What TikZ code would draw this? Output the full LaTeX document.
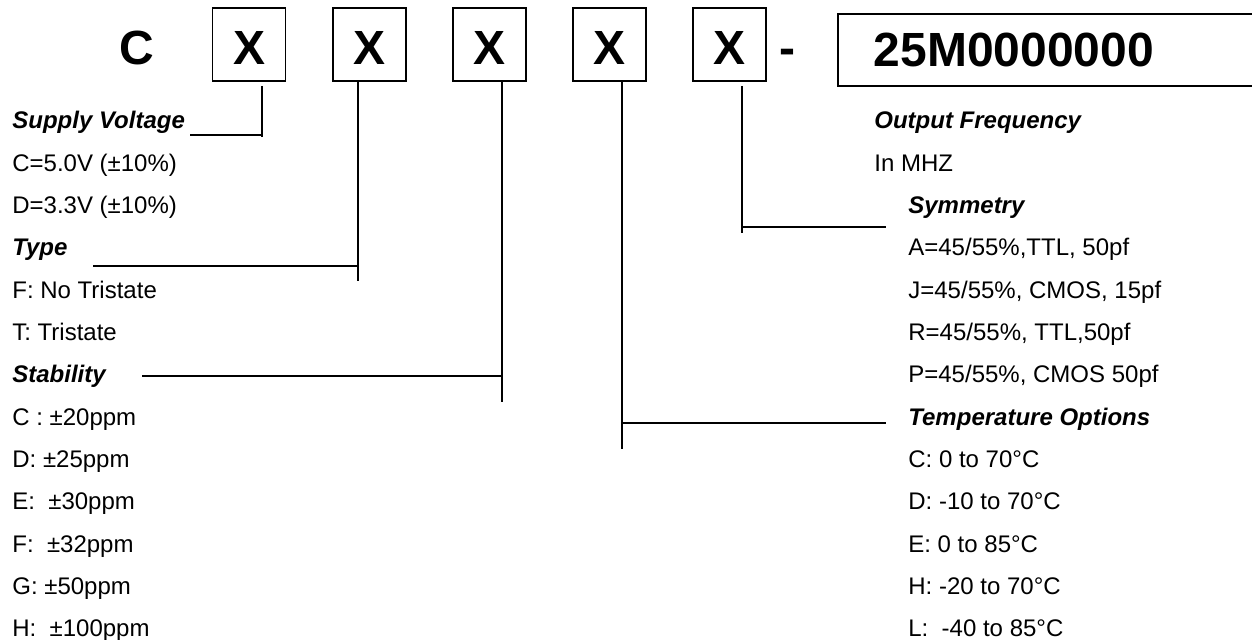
\documentclass[tikz,border=0pt]{standalone}
\usepackage{fontspec}
\setmainfont{Liberation Sans}
\usepackage{xcolor}

\begin{document}
\begin{tikzpicture}[
        digit/.style={draw, line width=0.7pt, minimum width=1.46cm, minimum height=1.46cm, inner sep=0pt, text height=0.82cm, text depth=0pt, font=\fontsize{27.3}{30}\selectfont\bfseries},
        big/.style={font=\fontsize{27.3}{30}\selectfont\bfseries},
        head/.style={anchor=base west, inner sep=0pt, font=\fontsize{13.66}{16}\selectfont\bfseries\itshape},
        item/.style={anchor=base west, inner sep=0pt, font=\fontsize{13.66}{16}\selectfont},
        wire/.style={line width=0.8pt}
    ]
        \useasboundingbox (0,0) rectangle (25.04,-12.8);

        % part number
        \node[big, anchor=base, inner sep=0pt] (prefix) at (2.74,-1.3) {C};
        \node[digit] (volt) at (4.98,-0.89) {X};
        \node[digit] (type) at (7.39,-0.89) {X};
        \node[digit] (stab) at (9.79,-0.89) {X};
        \node[digit] (temp) at (12.19,-0.89) {X};
        \node[digit] (symm) at (14.59,-0.89) {X};
        \node[big, anchor=base, inner sep=0pt] (dash) at (15.74,-1.3) {-};
        \node[big, draw, line width=1pt, anchor=west, minimum height=1.44cm, text width=7.1cm, inner xsep=0.72cm, align=left] (freq) at (16.74,-1.0) {25M0000000};

        % left column
        \node[head] (supplyhead) at (0.24,-2.58) {Supply Voltage};
        \node[item] (supplyc) at (0.24,-3.426) {C=5.0V (±10\%)};
        \node[item] (supplyd) at (0.24,-4.272) {D=3.3V (±10\%)};
        \node[head] (typehead) at (0.24,-5.118) {Type};
        \node[item] (typef) at (0.24,-5.964) {F: No Tristate};
        \node[item] (typet) at (0.24,-6.81) {T: Tristate};
        \node[head] (stabhead) at (0.24,-7.656) {Stability};
        \node[item] (stabc) at (0.24,-8.502) {C : ±20ppm};
        \node[item] (stabd) at (0.24,-9.348) {D: ±25ppm};
        \node[item] (stabe) at (0.24,-10.194) {E: \ ±30ppm};
        \node[item] (stabf) at (0.24,-11.04) {F: \ ±32ppm};
        \node[item] (stabg) at (0.24,-11.886) {G: ±50ppm};
        \node[item] (stabh) at (0.24,-12.732) {H: \ ±100ppm};

        % right column
        \node[head] (freqhead) at (17.48,-2.58) {Output Frequency};
        \node[item] (frequnit) at (17.48,-3.426) {In MHZ};
        \node[head] (symmhead) at (18.16,-4.272) {Symmetry};
        \node[item] (symma) at (18.16,-5.118) {A=45/55\%,TTL, 50pf};
        \node[item] (symmj) at (18.16,-5.964) {J=45/55\%, CMOS, 15pf};
        \node[item] (symmr) at (18.16,-6.81) {R=45/55\%, TTL,50pf};
        \node[item] (symmp) at (18.16,-7.656) {P=45/55\%, CMOS 50pf};
        \node[head] (temphead) at (18.16,-8.502) {Temperature Options};
        \node[item] (tempc) at (18.16,-9.348) {C: 0 to 70°C};
        \node[item] (tempd) at (18.16,-10.194) {D: -10 to 70°C};
        \node[item] (tempe) at (18.16,-11.04) {E: 0 to 85°C};
        \node[item] (temph) at (18.16,-11.886) {H: -20 to 70°C};
        \node[item] (templ) at (18.16,-12.732) {L: \ -40 to 85°C};

        % leader lines
        \coordinate (voltup) at (5.24,-1.72);
        \coordinate (voltend) at (5.24,-2.74);
        \coordinate (voltleft) at (3.8,-2.7);
        \draw[wire] (voltup) -- (voltend);
        \draw[wire] (voltleft) -- (voltleft -| voltend);

        \coordinate (typeend) at (7.16,-5.62);
        \coordinate (typeleft) at (1.86,-5.32);
        \draw[wire] (type.south -| typeend) -- (typeend);
        \draw[wire] (typeleft) -- (typeleft -| typeend);

        \coordinate (stabend) at (10.04,-8.04);
        \coordinate (stableft) at (2.84,-7.52);
        \draw[wire] (stab.south -| stabend) -- (stabend);
        \draw[wire] (stableft) -- (stableft -| stabend);

        \coordinate (tempend) at (12.44,-8.98);
        \coordinate (tempright) at (17.72,-8.46);
        \draw[wire] (temp.south -| tempend) -- (tempend);
        \draw[wire] (tempright -| tempend) -- (tempright);

        \coordinate (symmup) at (14.84,-1.72);
        \coordinate (symmend) at (14.84,-4.66);
        \coordinate (symmright) at (17.72,-4.54);
        \draw[wire] (symmup) -- (symmend);
        \draw[wire] (symmright -| symmend) -- (symmright);
    \end{tikzpicture}
\end{document}
